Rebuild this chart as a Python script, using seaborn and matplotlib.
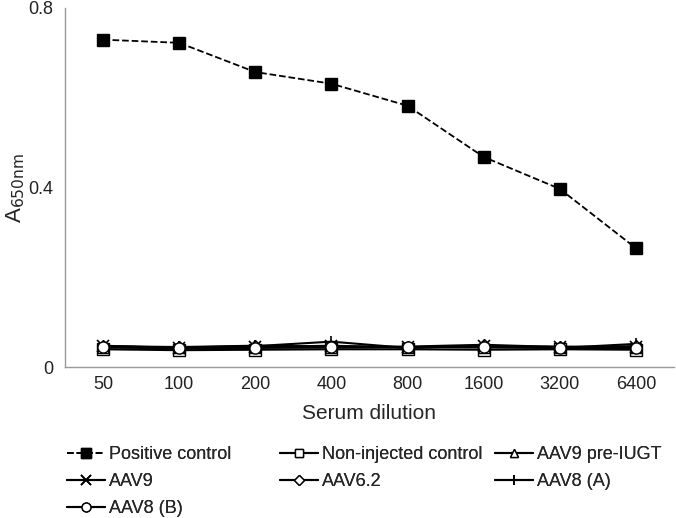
import numpy as np
import pandas as pd
import matplotlib
matplotlib.use("Agg")
import matplotlib.pyplot as plt
import seaborn as sns

# data
dilutions = ["50", "100", "200", "400", "800", "1600", "3200", "6400"]
positive_control = [0.729, 0.722, 0.657, 0.631, 0.582, 0.468, 0.397, 0.265]
non_injected = [0.040, 0.038, 0.039, 0.040, 0.040, 0.039, 0.040, 0.039]
aav9_pre = [0.045, 0.044, 0.046, 0.045, 0.045, 0.046, 0.044, 0.045]
aav9 = [0.048, 0.043, 0.045, 0.048, 0.044, 0.047, 0.046, 0.044]
aav62 = [0.047, 0.045, 0.048, 0.046, 0.046, 0.050, 0.045, 0.047]
aav8_a = [0.046, 0.044, 0.047, 0.057, 0.043, 0.048, 0.043, 0.052]
aav8_b = [0.044, 0.042, 0.043, 0.044, 0.045, 0.044, 0.043, 0.042]

series = {
    "Positive control": positive_control,
    "Non-injected control": non_injected,
    "AAV9 pre-IUGT": aav9_pre,
    "AAV9": aav9,
    "AAV6.2": aav62,
    "AAV8 (A)": aav8_a,
    "AAV8 (B)": aav8_b,
}
markers = {
    "Positive control": "s",
    "Non-injected control": "s",
    "AAV9 pre-IUGT": "^",
    "AAV9": "x",
    "AAV6.2": "D",
    "AAV8 (A)": "+",
    "AAV8 (B)": "o",
}

sns.set_style("white")
plt.rcParams["font.family"] = ["Liberation Sans", "DejaVu Sans"]

fig = plt.figure(figsize=(6.76, 5.18), dpi=100)
ax = fig.add_axes([0.096, 0.291, 0.901, 0.694])

pos = np.arange(len(dilutions))
for name, vals in series.items():
    df = pd.DataFrame({"x": pos, "y": vals})
    filled = name == "Positive control"
    m = markers[name]
    kw = dict(marker=m, markersize=8 if m != "D" else 6,
              markeredgecolor="black", markeredgewidth=1.0,
              markerfacecolor="black" if filled else "white")
    if filled:
        kw["markersize"] = 9
    if m in ("x", "+"):
        kw["markersize"] = 9
        kw["markeredgewidth"] = 1.2
    sns.lineplot(data=df, x="x", y="y", ax=ax, color="black",
                 linestyle="--" if filled else "-",
                 linewidth=1.3 if filled else 1.5,
                 label=name, zorder=3 if filled else 2, **kw)

ax.set_xlim(-0.5, len(dilutions) - 0.5)
ax.set_ylim(0, 0.8)
ax.set_yticks([0, 0.4, 0.8])
ax.set_yticklabels(["0", "0.4", "0.8"])
ax.set_xticks(pos)
ax.set_xticklabels(dilutions)
ax.set_xticks(np.arange(-0.5, len(dilutions)), minor=True)
ax.tick_params(axis="x", which="major", length=0, labelsize=13, pad=6, colors="#222222")
ax.tick_params(axis="x", which="minor", length=5, width=1, color="#999999", direction="out")
ax.tick_params(axis="y", length=5, width=1, direction="out", labelsize=13, labelcolor="#222222", color="#999999")

for s in ["top", "right"]:
    ax.spines[s].set_visible(False)
for s in ["left", "bottom"]:
    ax.spines[s].set_color("#999999")
    ax.spines[s].set_linewidth(1.0)

ax.set_xlabel("Serum dilution", fontsize=15, labelpad=8)
ax.set_ylabel(r"A$_{\mathrm{650nm}}$", fontsize=16, labelpad=1)

# legend: three fixed-width columns, filled row by row
handles, labels = ax.get_legend_handles_labels()
ax.get_legend().remove()
col_x = [67 / 676, 280 / 676, 495 / 676]
for c in range(3):
    idx = list(range(c, len(handles), 3))
    leg = fig.legend([handles[i] for i in idx], [labels[i] for i in idx],
                     loc="upper left", bbox_to_anchor=(col_x[c], 1 - 446 / 518),
                     frameon=False, fontsize=13, handlelength=2.1,
                     handletextpad=0.25, labelspacing=0.55, borderpad=0,
                     borderaxespad=0, markerscale=0.8)
    fig.add_artist(leg)

fig.savefig("out.png", dpi=100)
